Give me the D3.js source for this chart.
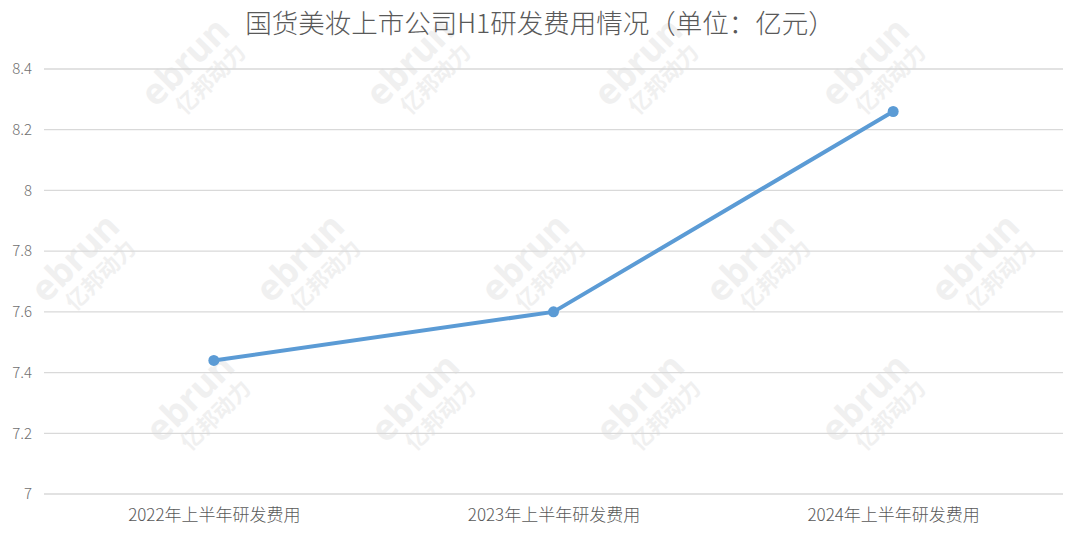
<!DOCTYPE html>
<html><head><meta charset="utf-8">
<script src="https://cdn.jsdelivr.net/npm/d3@7/dist/d3.min.js"></script>
<style>body{margin:0;background:#fff;}svg{display:block;}</style>
</head><body>
<svg id="c" width="1080" height="533"></svg>
<script>
const categories = ["2022年上半年研发费用", "2023年上半年研发费用", "2024年上半年研发费用"];
const values = [7.44, 7.60, 8.26];
const yTicks = [7, 7.2, 7.4, 7.6, 7.8, 8, 8.2, 8.4];
const title = "国货美妆上市公司H1研发费用情况（单位：亿元）";

const svg = d3.select("#c");
const W = 1080, H = 533;
const m = {left: 44, right: 17, top: 69, bottom: 39};
const font = "'Noto Sans CJK SC', 'Noto Sans', sans-serif";

// watermarks
const wmRows = [[195,72],[420,72],[648,72],[875,72],
  [85,268],[310,268],[535,268],[760,268],[985,268],
  [200,408],[425,408],[650,408],[875,408]];
const wm = svg.append("g");
wmRows.forEach(([cx,cy]) => {
  const g = wm.append("g").attr("transform", `translate(${cx},${cy}) rotate(-45)`);
  g.append("text").attr("x",0).attr("y",-2).attr("text-anchor","middle")
    .attr("font-family","'Noto Sans', sans-serif").attr("font-weight","bold")
    .attr("font-size",36).attr("fill","#f0f0f0").text("ebrun");
  g.append("text").attr("x",6).attr("y",24).attr("text-anchor","middle")
    .attr("font-family",font).attr("font-weight","bold")
    .attr("font-size",22).attr("fill","#f0f0f0").text("亿邦动力");
});

const x = d3.scalePoint().domain(categories).range([m.left, W - m.right]).padding(0.5);
const y = d3.scaleLinear().domain([7, 8.4]).range([H - m.bottom, m.top]);

// grid
svg.append("g").selectAll("line").data(yTicks).join("line")
  .attr("x1", m.left).attr("x2", W - m.right)
  .attr("y1", d => y(d)).attr("y2", d => y(d))
  .attr("stroke", "#d9d9d9").attr("stroke-width", 1.3);

// y axis labels
const yAxis = d3.axisLeft(y).tickValues(yTicks).tickSize(0).tickPadding(0).tickFormat(d => d3.format("")(+d.toFixed(1)));
const yg = svg.append("g").attr("transform", `translate(32,0)`).call(yAxis);
yg.select(".domain").remove();
yg.selectAll("text").attr("font-family", font).attr("font-weight", 300).attr("font-size", 15).attr("fill", "#707070");

// x axis labels
const xAxis = d3.axisBottom(x).tickSize(0).tickPadding(0);
const xg = svg.append("g").attr("transform", `translate(0,${H - m.bottom + 15})`).call(xAxis);
xg.select(".domain").remove();
xg.selectAll("text").attr("font-family", font).attr("font-weight", 300).attr("font-size", 17).attr("fill", "#595959");

// line
const line = d3.line().x((d,i) => x(categories[i])).y(d => y(d));
svg.append("path").datum(values).attr("d", line)
  .attr("fill", "none").attr("stroke", "#5b9bd5").attr("stroke-width", 4).attr("stroke-linejoin","round");
svg.append("g").selectAll("circle").data(values).join("circle")
  .attr("cx", (d,i) => x(categories[i])).attr("cy", d => y(d)).attr("r", 5.5)
  .attr("fill", "#5b9bd5");

// title
svg.append("text").attr("x", 540).attr("y", 33).attr("text-anchor", "middle")
  .attr("font-family", font).attr("font-weight", 300).attr("font-size", 26.5).attr("fill", "#595959").text(title);
</script>
</body></html>
